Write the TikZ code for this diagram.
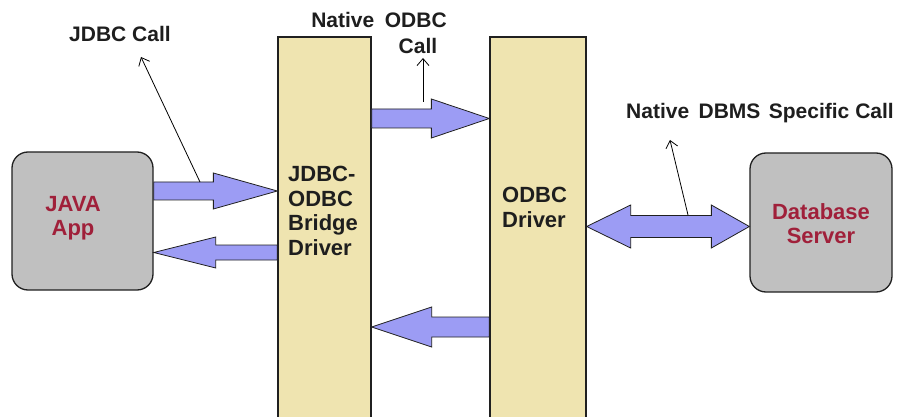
\documentclass[tikz,border=0pt]{standalone}
\usepackage{fontspec}
\setmainfont{Liberation Sans}
\usetikzlibrary{calc,arrows.meta}
\definecolor{beige}{HTML}{EFE4B0}
\definecolor{lav}{HTML}{9C9CF4}
\definecolor{greybox}{HTML}{C0C0C0}
\definecolor{redtxt}{HTML}{A0203A}
\definecolor{labtxt}{HTML}{1E1E1E}
\definecolor{edge}{HTML}{202020}
\newcommand\rblk[5]{\draw[blk] ($(#1)+(0,-#4)$) -- ($(#2)+(-#3,-#4)$) -- ($(#2)+(-#3,-#5)$) -- (#2) -- ($(#2)+(-#3,#5)$) -- ($(#2)+(-#3,#4)$) -- ($(#1)+(0,#4)$) -- cycle;}
\newcommand\lblk[5]{\draw[blk] ($(#1)+(0,-#4)$) -- ($(#2)+(#3,-#4)$) -- ($(#2)+(#3,-#5)$) -- (#2) -- ($(#2)+(#3,#5)$) -- ($(#2)+(#3,#4)$) -- ($(#1)+(0,#4)$) -- cycle;}
\begin{document}
\begin{tikzpicture}[x=1pt,y=-1pt,
  colbox/.style={draw=edge,line width=1.3pt,fill=beige,inner sep=0pt,minimum height=388pt},
  rbox/.style={draw=edge,line width=1.3pt,fill=greybox,rounded corners=16pt,inner sep=0pt},
  blk/.style={draw=edge,line width=0.8pt,fill=lav,line join=miter},
  ptr/.style={draw=black,line width=0.8pt,-{Straight Barb[length=7pt,width=12pt,line width=0.8pt]}},
  lab/.style={font=\fontsize{21}{24}\selectfont\bfseries,text=labtxt,inner sep=0pt},
  boxtxt/.style={font=\fontsize{22}{24.5}\selectfont\bfseries,inner sep=0pt},
]
\useasboundingbox[fill=white] (0,0) rectangle (903,417);
\begin{scope}
\clip (0,0) rectangle (903,417);
% boxes
\node[colbox,minimum width=93pt] (bridge) at (324.5,231) {};
\node[colbox,minimum width=96pt] (odbc) at (538,231) {};
\end{scope}
\node[rbox,minimum width=141pt,minimum height=138pt] (java) at (82.5,221) {};
\node[rbox,minimum width=142pt,minimum height=139pt] (db) at (821,222.5) {};
% box texts
\node[boxtxt,text=redtxt,align=center,anchor=north] (javatxt) at (73,196) {JAVA\\App};
\node[boxtxt,text=redtxt,align=center,anchor=north] (dbtxt) at (821,203) {Database\\Server};
\node[boxtxt,text=labtxt,align=left,anchor=north west] (bridgetxt) at (288,166) {JDBC-\\ODBC\\Bridge\\Driver};
\node[boxtxt,text=labtxt,align=left,anchor=north west] (odbctxt) at (502,187) {ODBC\\Driver};
% block arrows
\coordinate (a1s) at (java.east |- 0,191);
\coordinate (a1t) at (bridge.west |- 0,191);
\rblk{a1s}{a1t}{64}{9}{18}
\coordinate (a2s) at (bridge.west |- 0,252.5);
\coordinate (a2t) at (java.east |- 0,252.5);
\lblk{a2s}{a2t}{62}{7.5}{15.5}
\coordinate (a3s) at (bridge.east |- 0,118.5);
\coordinate (a3t) at (odbc.west |- 0,118.5);
\rblk{a3s}{a3t}{58}{9.5}{19.5}
\coordinate (a4s) at (odbc.west |- 0,327);
\coordinate (a4t) at (bridge.east |- 0,327);
\lblk{a4s}{a4t}{60}{10}{20}
\coordinate (dl) at (odbc.east |- 0,226.5);
\coordinate (dr) at (db.west |- 0,226.5);
\draw[blk] (dl) -- ($(dl)+(44,-21.5)$) -- ($(dl)+(44,-11)$) -- ($(dr)+(-38,-11)$) -- ($(dr)+(-38,-21.5)$) -- (dr)
  -- ($(dr)+(-38,21.5)$) -- ($(dr)+(-38,11)$) -- ($(dl)+(44,11)$) -- ($(dl)+(44,21.5)$) -- cycle;
% labels
\node[lab] (l1) at (120,34) {JDBC Call};
\node[lab] (l2) at (379,20) {Native\hspace{0.5em}ODBC};
\node[lab] (l2b) at (418,46) {Call};
\node[lab] (l3) at (760,113) {Native\hspace{0.45em}DBMS\hspace{0.4em}Specific Call};
% pointers
\coordinate (p1s) at (200,182);
\coordinate (p1e) at (141,57);
\draw[ptr] (p1s) -- (p1e);
\coordinate (p2s) at (423,102);
\coordinate (p2e) at (423,58);
\draw[ptr] (p2s) -- (p2e);
\coordinate (p3s) at (688,215);
\coordinate (p3e) at (670,140);
\draw[ptr] (p3s) -- (p3e);
\end{tikzpicture}
\end{document}
